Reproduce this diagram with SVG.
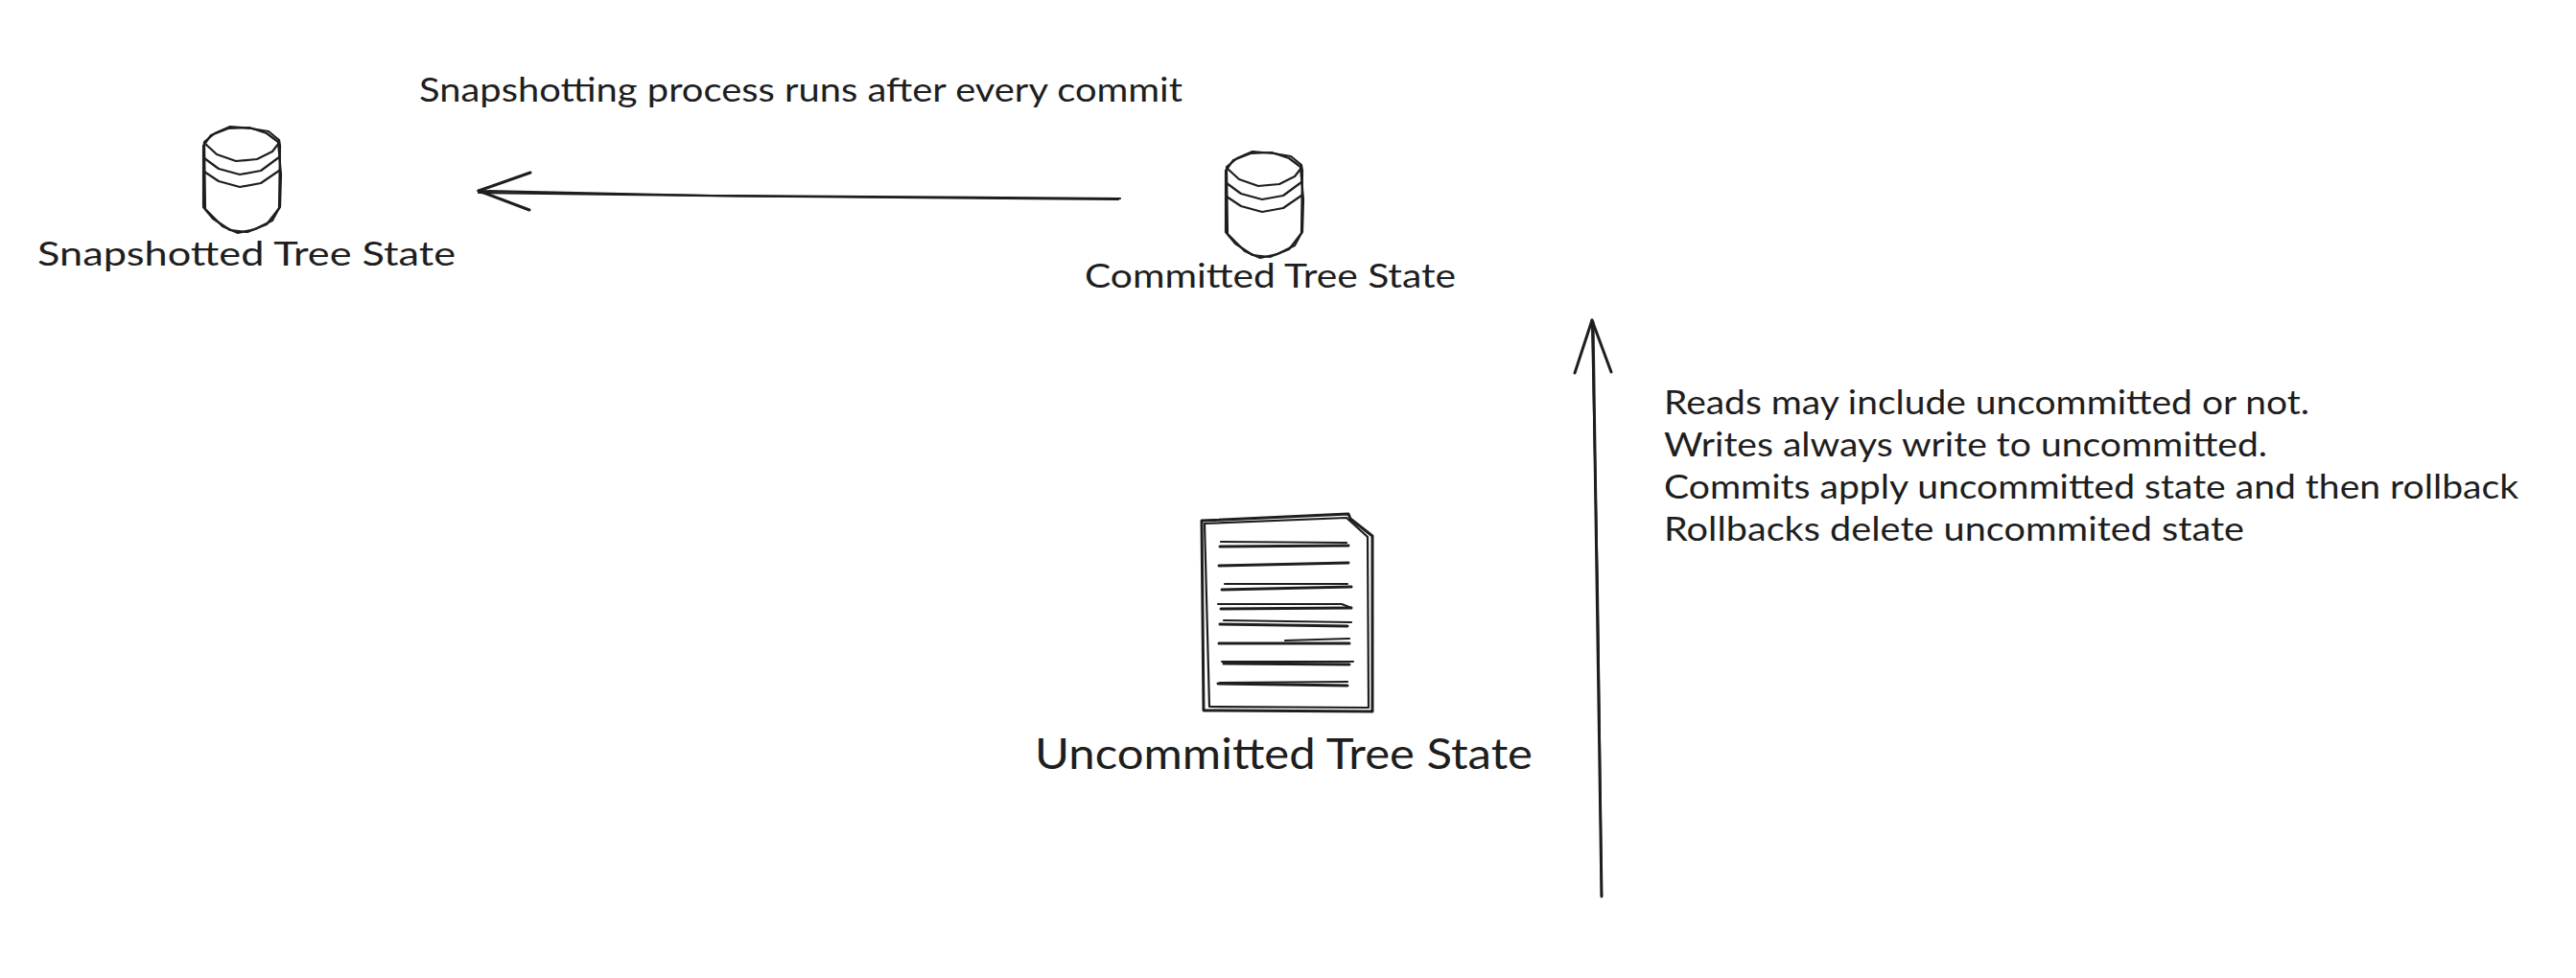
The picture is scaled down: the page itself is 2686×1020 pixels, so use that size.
<svg xmlns="http://www.w3.org/2000/svg" width="2686" height="1020" viewBox="0 0 2686 1020">
<style>
.s{fill:none;stroke:#1e1e1e;stroke-width:2.2;stroke-linecap:round;stroke-linejoin:round}
.t{stroke-width:3}
text{font-family:"Lato","Noto Sans",sans-serif;fill:#1e1e1e;font-size:35px}
</style>
<rect width="2686" height="1020" fill="#ffffff"/>
<defs>
<g id="cyl">
<path class="s" d="M1 16 L12 7 L28 0 L50 2 L68 5 L79 14 L80 20 L79 85 L72 98 L54 107 L36 111 L20 104 L2 86 Z"/>
<path class="s" d="M0 20 L8 9 L26 2 L48 1 L66 7 L78 16 L81 50 L80 84 L66 102 L46 110 L28 108 L10 96 L0 84 Z"/>
<path class="s" d="M1 17 L14 29 L34 36 L56 34 L72 26 L79 17"/>
<path class="s" d="M1 33 L16 44 L38 50 L60 46 L79 32"/>
<path class="s" d="M1 47 L16 57 L38 63 L60 59 L79 46"/>
</g>
</defs>
<g id="connectors">
<g id="arrow-snapshot">
<path class="s" d="M1168 207 L740 204 L499 199"/>
<path class="s" d="M1166 208 L820 205 L499 201"/>
<path class="s t" d="M499 199 L553 180"/>
<path class="s t" d="M499 199 L552 219"/>
</g>
<g id="arrow-commit">
<path class="s t" d="M1670 935 L1661 336"/>
<path class="s" d="M1670 935 L1666 620 L1660 334"/>
<path class="s t" d="M1660 334 L1642 389"/>
<path class="s t" d="M1660 334 L1680 388"/>
</g>
</g>
<g id="note-snapshot"><text x="437" y="106" textLength="796" lengthAdjust="spacingAndGlyphs">Snapshotting process runs after every commit</text></g>
<g id="snapshotted-tree-state">
<use href="#cyl" transform="translate(212 132)"/>
<text x="39" y="277" textLength="436" lengthAdjust="spacingAndGlyphs">Snapshotted Tree State</text>
</g>
<g id="committed-tree-state">
<use href="#cyl" transform="translate(1278 158)"/>
<text x="1131" y="300" textLength="387" lengthAdjust="spacingAndGlyphs">Committed Tree State</text>
</g>
<g id="uncommitted-tree-state">
<path class="s t" d="M1253 543 L1406 536 L1408 541 L1431 559 L1431 742 L1255 741 Z"/>
<path class="s" d="M1256 546 L1404 540 L1426 560 L1427 738 L1261 737 Z"/>
<path class="s t" d="M1272 570 L1406 569"/><path class="s" d="M1273 565 L1404 566"/>
<path class="s t" d="M1271 590 L1406 587"/>
<path class="s t" d="M1274 615 L1409 612"/><path class="s" d="M1277 609 L1405 609"/>
<path class="s" d="M1270 630 L1399 630 L1409 634"/><path class="s t" d="M1273 635 L1409 634"/>
<path class="s t" d="M1272 651 L1405 653"/><path class="s" d="M1276 647 L1409 649"/>
<path class="s t" d="M1271 671 L1407 671"/><path class="s" d="M1340 668 L1407 666"/>
<path class="s t" d="M1276 692 L1407 693"/><path class="s" d="M1274 690 L1411 690"/>
<path class="s t" d="M1270 713 L1405 715"/><path class="s" d="M1272 712 L1405 711"/>
<text x="1079" y="802" style="font-size:44px" textLength="519" lengthAdjust="spacingAndGlyphs">Uncommitted Tree State</text>
</g>
<g id="note-operations">
<text x="1735" y="432" textLength="673" lengthAdjust="spacingAndGlyphs">Reads may include uncommitted or not.</text>
<text x="1735" y="476" textLength="629" lengthAdjust="spacingAndGlyphs">Writes always write to uncommitted.</text>
<text x="1735" y="520" textLength="891" lengthAdjust="spacingAndGlyphs">Commits apply uncommitted state and then rollback</text>
<text x="1735" y="564" textLength="605" lengthAdjust="spacingAndGlyphs">Rollbacks delete uncommited state</text>
</g>
</svg>
